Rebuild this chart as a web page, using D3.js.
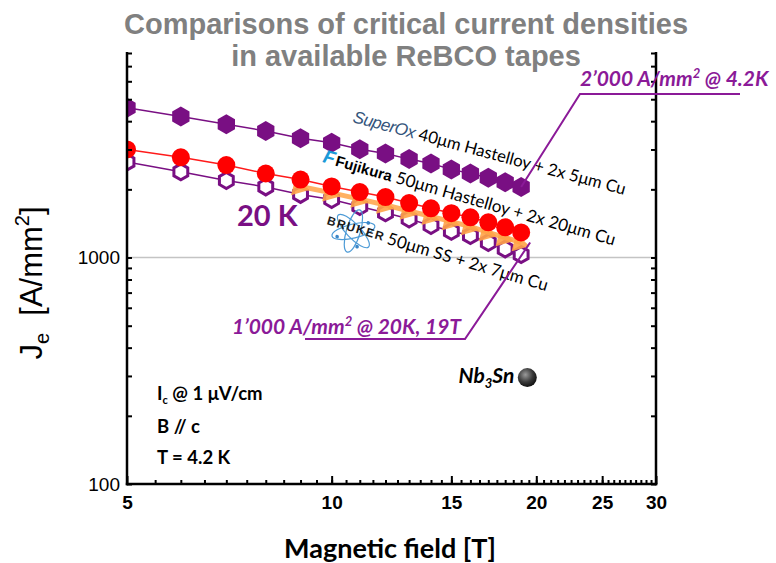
<!DOCTYPE html>
<html>
<head>
<meta charset="utf-8">
<script src="https://cdn.jsdelivr.net/npm/d3@7"></script>
<style>
  body { margin: 0; background: #fff; }
  svg { display: block; }
</style>
</head>
<body>
<svg id="chart" width="776" height="563"></svg>
<script>
// data (field in T, Je in A/mm2)
const fields = [5, 6, 7, 8, 9, 10, 11, 12, 13, 14, 15, 16, 17, 18, 19];
const superOx = [4580, 4190, 3880, 3620, 3360, 3210, 3010, 2880, 2720, 2600, 2450, 2350, 2250, 2150, 2050];
const fujikura = [3000, 2770, 2560, 2350, 2210, 2060, 1945, 1850, 1740, 1650, 1570, 1505, 1430, 1360, 1290];
const bruker = [2640, 2390, 2190, 2050, 1900, 1805, 1680, 1575, 1480, 1385, 1305, 1250, 1165, 1090, 1030];
const fields20K = [9, 10, 11, 12, 13, 14, 15, 16, 17, 18, 19];
const je20K = [2060, 1930, 1810, 1705, 1605, 1520, 1440, 1370, 1290, 1225, 1165];
const nb3sn = [19.4, 295];

const xMajor = [5, 10, 15, 20, 25, 30];
const xMinor = d3.range(5.5, 30, 0.5);
const yLabels = [100, 1000];
const yMinor = [200, 300, 400, 500, 600, 700, 800, 900, 2000, 3000, 4000, 5000, 6000, 7000, 8000];

const purple = '#790f83';
const annoPurple = '#8b1a98';

const svg = d3.select('#chart');

const x = d3.scaleLog().domain([5, 30]).range([127, 656]);
const y = d3.scaleLog().domain([100, 8000]).range([484, 53]);

// title
const title = svg.append('g')
    .attr('font-family', 'Liberation Sans, Arial, sans-serif')
    .attr('font-weight', 'bold')
    .attr('font-size', 29)
    .attr('fill', '#808080')
    .attr('text-anchor', 'middle');
title.append('text').attr('x', 406).attr('y', 34).text('Comparisons of critical current densities');
title.append('text').attr('x', 406).attr('y', 66).text('in available ReBCO tapes');

// clip for the plot area
svg.append('clipPath').attr('id', 'plot-clip')
  .append('rect')
    .attr('x', x.range()[0]).attr('y', y.range()[1])
    .attr('width', x.range()[1] - x.range()[0])
    .attr('height', y.range()[0] - y.range()[1]);

// grid line at 1000
svg.append('line')
    .attr('x1', x.range()[0]).attr('x2', x.range()[1])
    .attr('y1', y(1000)).attr('y2', y(1000))
    .attr('stroke', '#c4c4c4').attr('stroke-width', 1.5);

const plot = svg.append('g').attr('clip-path', 'url(#plot-clip)');

function series(xs, ys) {
  return xs.map((f, i) => ({f: f, j: ys[i]}));
}
const line = d3.line().x(d => x(d.f)).y(d => y(d.j));

function hexPath(r) {
  const pts = d3.range(6).map(k => {
    const a = (-90 + 60 * k) * Math.PI / 180;
    return [r * Math.cos(a), r * Math.sin(a)];
  });
  return 'M' + pts.map(p => p.join(',')).join('L') + 'Z';
}

const dSuper = series(fields, superOx);
const dFuji = series(fields, fujikura);
const dBruker = series(fields, bruker);
const d20K = series(fields20K, je20K);

// fit lines
plot.append('path').attr('d', line(dBruker)).attr('fill', 'none').attr('stroke', purple).attr('stroke-width', 1.5);
plot.append('path').attr('d', line(dFuji)).attr('fill', 'none').attr('stroke', '#ff1a1a').attr('stroke-width', 1.5);
plot.append('path').attr('d', line(dSuper)).attr('fill', 'none').attr('stroke', purple).attr('stroke-width', 1.5);

// Bruker: hollow hexagons
plot.selectAll('.bruker')
  .data(dBruker)
  .enter()
  .append('path')
    .attr('class', 'bruker')
    .attr('d', hexPath(8))
    .attr('transform', d => 'translate(' + x(d.f) + ',' + y(d.j) + ')')
    .attr('fill', '#fff')
    .attr('stroke', purple)
    .attr('stroke-width', 3);

// 20 K orange arrows
const first = d20K[0], last = d20K[d20K.length - 1];
const ang = Math.atan2(y(last.j) - y(first.j), x(last.f) - x(first.f)) * 180 / Math.PI;
plot.append('path').attr('d', line(d20K))
    .attr('fill', 'none').attr('stroke', '#ffa347').attr('stroke-width', 5).attr('opacity', 0.85);
plot.selectAll('.k20')
  .data(d20K)
  .enter()
  .append('path')
    .attr('class', 'k20')
    .attr('d', d3.symbol(d3.symbolTriangle, 150))
    .attr('transform', d => 'translate(' + (x(d.f) - 2) + ',' + (y(d.j) + 1) + ') rotate(' + (90 + ang) + ')')
    .attr('fill', '#ffa347')
    .attr('opacity', 0.9);

// Fujikura: red circles
plot.selectAll('.fuji')
  .data(dFuji)
  .enter()
  .append('circle')
    .attr('class', 'fuji')
    .attr('cx', d => x(d.f))
    .attr('cy', d => y(d.j))
    .attr('r', 9)
    .attr('fill', '#ff0000');

// SuperOx: filled hexagons
plot.selectAll('.superox')
  .data(dSuper)
  .enter()
  .append('path')
    .attr('class', 'superox')
    .attr('d', hexPath(10))
    .attr('transform', d => 'translate(' + x(d.f) + ',' + y(d.j) + ')')
    .attr('fill', purple);

// Nb3Sn sphere
const grad = svg.append('defs').append('radialGradient')
    .attr('id', 'ball').attr('cx', '40%').attr('cy', '35%').attr('r', '65%');
grad.append('stop').attr('offset', '0%').attr('stop-color', '#9a9a9a');
grad.append('stop').attr('offset', '60%').attr('stop-color', '#3a3a3a');
grad.append('stop').attr('offset', '100%').attr('stop-color', '#111');
svg.append('circle')
    .attr('cx', x(nb3sn[0])).attr('cy', y(nb3sn[1])).attr('r', 9.5)
    .attr('fill', 'url(#ball)');

// axes
const axisW = 2.5;
const left = svg.append('g').attr('transform', 'translate(' + x.range()[0] + ',0)')
    .call(d3.axisRight(y).tickValues(yMinor.concat(yLabels)).tickSize(5).tickSizeOuter(0).tickFormat(''));
const right = svg.append('g').attr('transform', 'translate(' + x.range()[1] + ',0)')
    .call(d3.axisLeft(y).tickValues(yMinor.concat(yLabels)).tickSize(5).tickSizeOuter(0).tickFormat(''));
const bottomMinor = svg.append('g').attr('transform', 'translate(0,' + y.range()[0] + ')')
    .call(d3.axisTop(x).tickValues(xMinor).tickSize(4).tickSizeOuter(0).tickFormat(''));
const bottomMajor = svg.append('g').attr('transform', 'translate(0,' + y.range()[0] + ')')
    .call(d3.axisTop(x).tickValues(xMajor).tickSize(8).tickSizeOuter(0).tickFormat(''));
[left, right, bottomMinor, bottomMajor].forEach(g => {
  g.select('.domain').attr('stroke', '#000').attr('stroke-width', axisW);
  g.selectAll('.tick line').attr('stroke', '#000').attr('stroke-width', 2);
});
left.select('.domain').attr('d', 'M0,' + (y.range()[1] - 1) + 'V' + (y.range()[0] + 1.2));
right.select('.domain').attr('d', 'M0,' + (y.range()[1] - 1) + 'V' + (y.range()[0] + 1.2));
bottomMinor.select('.domain').attr('d', 'M' + (x.range()[0] - 1.2) + ',0H' + (x.range()[1] + 1.2));
bottomMajor.select('.domain').remove();

// tick labels
const yTickText = svg.append('g').attr('transform', 'translate(' + x.range()[0] + ',0)')
    .call(d3.axisLeft(y).tickValues(yLabels).tickSize(0).tickPadding(7).tickFormat(d3.format('d')));
yTickText.select('.domain').remove();
yTickText.selectAll('text').attr('font-family', 'Liberation Sans, Arial, sans-serif').attr('font-size', 19).attr('fill', '#000');

const xTickText = svg.append('g').attr('transform', 'translate(0,' + y.range()[0] + ')')
    .call(d3.axisBottom(x).tickValues(xMajor).tickSize(0).tickPadding(12).tickFormat(d3.format('d')));
xTickText.select('.domain').remove();
xTickText.selectAll('text').attr('font-family', 'Liberation Sans, Arial, sans-serif').attr('font-weight', 'bold').attr('font-size', 19).attr('fill', '#000');

// axis titles
svg.append('text')
    .attr('x', 390).attr('y', 558)
    .attr('text-anchor', 'middle')
    .attr('font-family', 'Lato, sans-serif')
    .attr('font-weight', 'bold')
    .attr('font-size', 27)
    .text('Magnetic field [T]');

const yTitle = svg.append('text')
    .attr('transform', 'translate(42,283) rotate(-90)')
    .attr('text-anchor', 'middle')
    .attr('font-family', 'Liberation Sans, Arial, sans-serif')
    .attr('font-size', 31)
    .attr('fill', '#000');
yTitle.append('tspan').text('J');
yTitle.append('tspan').attr('font-size', 20).attr('dy', 7).text('e');
yTitle.append('tspan').attr('dy', -7).text('\u00a0 [A/mm');
yTitle.append('tspan').attr('font-size', 20).attr('dy', -13).text('2');
yTitle.append('tspan').attr('dy', 13).text(']');

// tape labels
const tapeFont = 'Lato, Calibri, sans-serif';

const sx = svg.append('g').attr('transform', 'translate(352,122) rotate(15)');
const sxText = sx.append('text').attr('font-family', tapeFont).attr('font-size', 16.7).attr('fill', '#000');
sxText.append('tspan').attr('font-family', 'Liberation Sans, Arial, sans-serif').attr('font-style', 'italic')
    .attr('font-size', 17).attr('letter-spacing', -0.5).attr('fill', '#34557c').text('SuperOx');
sxText.append('tspan').text(' 40\u03bcm Hastelloy + 2x 5\u03bcm Cu');

const fj = svg.append('g').attr('transform', 'translate(322,162) rotate(16)');
fj.append('text').attr('x', 0).attr('y', 0)
    .attr('font-family', 'Liberation Sans, Arial, sans-serif').attr('font-weight', 'bold').attr('font-style', 'italic')
    .attr('font-size', 19).attr('fill', '#1a9ad8').text('F');
const fjText = fj.append('text').attr('x', 13).attr('y', 0).attr('font-family', tapeFont).attr('font-size', 17).attr('fill', '#000');
fjText.append('tspan').attr('font-family', 'Liberation Sans, Arial, sans-serif').attr('font-weight', 'bold')
    .attr('font-size', 15).text('Fujikura');
fjText.append('tspan').text(' 50\u03bcm Hastelloy + 2x 20\u03bcm Cu');

const bk = svg.append('g').attr('transform', 'translate(330,222) rotate(16.5)');
const atom = bk.append('g').attr('transform', 'translate(25,2)');
[-30, 30, 90].forEach(a => {
  atom.append('ellipse').attr('rx', 22).attr('ry', 7).attr('transform', 'rotate(' + a + ')')
      .attr('fill', 'none').attr('stroke', '#4d9bd6').attr('stroke-width', 1.2);
});
[[-14, 10], [12, -12], [8, 14]].forEach(p => {
  atom.append('circle').attr('cx', p[0]).attr('cy', p[1]).attr('r', 1.8).attr('fill', '#3a86c8');
});
bk.append('text').attr('x', -3).attr('y', 3)
    .attr('font-family', 'Liberation Sans, Arial, sans-serif').attr('font-weight', 'bold')
    .attr('font-size', 12).attr('letter-spacing', 1.4).attr('fill', '#1a1a1a').text('BRUKER');
bk.append('text').attr('x', 60).attr('y', 5)
    .attr('font-family', tapeFont).attr('font-size', 17).attr('fill', '#000')
    .text('50\u03bcm SS + 2x 7\u03bcm Cu');

// 20 K label
svg.append('text')
    .attr('x', 237).attr('y', 226)
    .attr('font-family', tapeFont).attr('font-weight', 'bold').attr('font-size', 29)
    .attr('fill', purple).text('20 K');

// annotation leaders
const lastSuper = dSuper[dSuper.length - 1];
svg.append('path')
    .attr('d', 'M' + x(lastSuper.f) + ',' + y(lastSuper.j) + 'L580,94H740')
    .attr('fill', 'none').attr('stroke', annoPurple).attr('stroke-width', 2);
svg.append('path')
    .attr('d', 'M' + (x(last.f) + 9) + ',' + y(last.j) + 'L465,339H305')
    .attr('fill', 'none').attr('stroke', annoPurple).attr('stroke-width', 2);

const anno1 = svg.append('text').attr('x', 580).attr('y', 86)
    .attr('font-family', tapeFont).attr('font-weight', 'bold').attr('font-style', 'italic')
    .attr('font-size', 21).attr('fill', annoPurple);
anno1.append('tspan').text('2\u2019000 A/mm');
anno1.append('tspan').attr('font-size', 13).attr('dy', -8).text('2');
anno1.append('tspan').attr('dy', 8).text(' @ 4.2K');

const anno2 = svg.append('text').attr('x', 232).attr('y', 334)
    .attr('font-family', tapeFont).attr('font-weight', 'bold').attr('font-style', 'italic')
    .attr('font-size', 21).attr('fill', annoPurple);
anno2.append('tspan').text('1\u2019000 A/mm');
anno2.append('tspan').attr('font-size', 13).attr('dy', -8).text('2');
anno2.append('tspan').attr('dy', 8).text(' @ 20K, 19T');

// Nb3Sn label
const nbText = svg.append('text')
    .attr('x', x(nb3sn[0]) - 13).attr('y', y(nb3sn[1]) + 5)
    .attr('text-anchor', 'end')
    .attr('font-family', tapeFont).attr('font-weight', 'bold').attr('font-style', 'italic')
    .attr('font-size', 21).attr('fill', '#000');
nbText.append('tspan').text('Nb');
nbText.append('tspan').attr('font-size', 13).attr('dy', 5).text('3');
nbText.append('tspan').attr('dy', -5).text('Sn');

// measurement conditions
const cond = svg.append('g')
    .attr('font-family', tapeFont).attr('font-weight', 'bold').attr('font-size', 18.5).attr('fill', '#000');
const ic = cond.append('text').attr('x', 157).attr('y', 400);
ic.append('tspan').text('I');
ic.append('tspan').attr('font-size', 11).attr('dy', 4).text('c');
ic.append('tspan').attr('dy', -4).text(' @ 1 \u03bcV/cm');
cond.append('text').attr('x', 157).attr('y', 433).text('B // c');
cond.append('text').attr('x', 157).attr('y', 464).text('T = 4.2 K');
</script>
</body>
</html>
